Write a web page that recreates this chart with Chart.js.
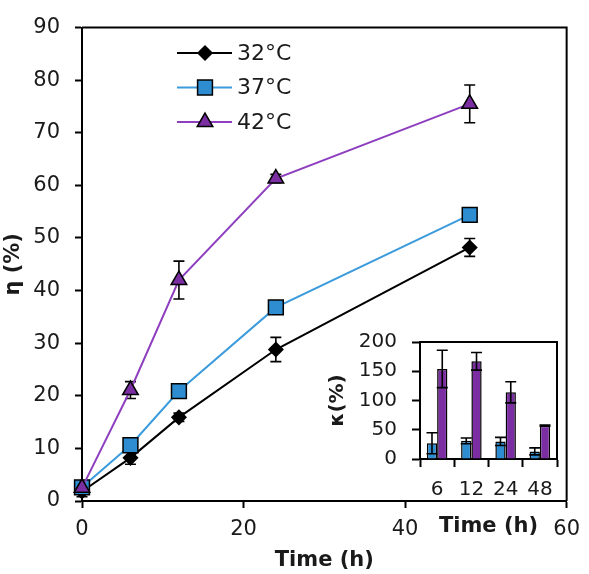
<!DOCTYPE html>
<html>
<head>
<meta charset="utf-8">
<script src="https://cdn.jsdelivr.net/npm/chart.js@4.4.1/dist/chart.umd.min.js"></script>
<style>
  body { margin: 0; background: #fff; }
  #wrap { position: relative; width: 589px; height: 574px; }
  #mainChart { position: absolute; left: 0; top: 0; }
  #insetChart { position: absolute; left: 325px; top: 315px; }
</style>
</head>
<body>
<div id="wrap">
  <canvas id="mainChart" width="589" height="574"></canvas>
  <canvas id="insetChart" width="250" height="225"></canvas>
</div>
<script>
// main chart data (eta %, time in h)
var times = [0, 6, 12, 24, 48];
var eta32 = [1.8, 8.2, 15.9, 28.8, 48.2];
var eta32Err = [1.0, 1.2, 0.8, 2.3, 1.7];
var eta37 = [2.6, 10.6, 20.9, 36.8, 54.4];
var eta37Err = [0.6, 0.8, 0.6, 0.8, 0.8];
var eta42 = [2.5, 21.1, 42.0, 61.3, 75.5];
var eta42Err = [0.6, 1.6, 3.6, 0.8, 3.6];
var seriesLabels = ["32°C", "37°C", "42°C"];

// inset data (kappa %)
var insetTimes = ["6", "12", "24", "48"];
var kappa37 = [27, 31, 30, 13];
var kappa37Err = [18, 5, 7, 6];
var kappa42 = [154, 167, 114, 57];
var kappa42Err = [32, 15, 18, 1];

var FONT = "'DejaVu Sans', sans-serif";
var TXT = '#1a1a1a';

function toXY(vals) {
    return times.map(function (t, i) { return { x: t, y: vals[i] }; });
}

// error bars, drawn behind markers (main) or on top (inset)
function errorBarPlugin(id, errs, onTop) {
    function draw(chart) {
        var ctx = chart.ctx;
        var yScale = chart.scales.y;
        ctx.save();
        ctx.strokeStyle = '#000';
        ctx.lineWidth = 1.6;
        chart.data.datasets.forEach(function (ds, di) {
            var meta = chart.getDatasetMeta(di);
            meta.data.forEach(function (el, i) {
                var v = ds.data[i].y !== undefined ? ds.data[i].y : ds.data[i];
                var e = errs[di][i];
                var yTop = yScale.getPixelForValue(v + e);
                var yBot = yScale.getPixelForValue(Math.max(0, v - e));
                var x = el.x;
                ctx.beginPath();
                ctx.moveTo(x, yTop); ctx.lineTo(x, yBot);
                ctx.moveTo(x - 5.5, yTop); ctx.lineTo(x + 5.5, yTop);
                ctx.moveTo(x - 5.5, yBot); ctx.lineTo(x + 5.5, yBot);
                ctx.stroke();
            });
        });
        ctx.restore();
    }
    var p = { id: id };
    if (onTop) p.afterDatasetsDraw = draw; else p.beforeDatasetsDraw = draw;
    return p;
}

// top and right frame lines
var boxPlugin = {
    id: 'box',
    afterDraw: function (chart) {
        var a = chart.chartArea, ctx = chart.ctx;
        ctx.save();
        ctx.strokeStyle = '#000';
        ctx.lineWidth = 2;
        ctx.beginPath();
        ctx.moveTo(a.left, a.top);
        ctx.lineTo(a.right, a.top);
        ctx.lineTo(a.right, a.bottom);
        ctx.stroke();
        ctx.restore();
    }
};

// legend with line + marker, like the original
var lineLegend = {
    id: 'lineLegend',
    afterDraw: function (chart) {
        var ctx = chart.ctx;
        var rows = [53, 87.5, 122];
        ctx.save();
        chart.data.datasets.forEach(function (ds, i) {
            var y = rows[i];
            ctx.strokeStyle = ds.borderColor;
            ctx.lineWidth = 2;
            ctx.beginPath();
            ctx.moveTo(177, y); ctx.lineTo(232, y);
            ctx.stroke();
            ctx.fillStyle = ds.pointBackgroundColor;
            ctx.strokeStyle = '#000';
            ctx.lineWidth = 1.5;
            Chart.helpers.drawPoint(ctx, {
                pointStyle: ds.pointStyle, radius: ds.pointRadius, rotation: 0, borderWidth: 1.5
            }, 205, y);
            ctx.fillStyle = TXT;
            ctx.font = '22px ' + FONT;
            ctx.textBaseline = 'middle';
            ctx.textAlign = 'left';
            ctx.fillText(seriesLabels[i], 237, y + 1);
        });
        ctx.restore();
    }
};

var ctxMain = document.getElementById("mainChart").getContext('2d');
var mainChart = new Chart(ctxMain, {
    type: 'line',
    data: {
        datasets: [{
            label: seriesLabels[0],
            data: toXY(eta32),
            borderColor: '#000000',
            borderWidth: 2,
            pointStyle: 'rectRot',
            pointRadius: 7,
            pointBackgroundColor: '#000000',
            pointBorderColor: '#000000',
            pointBorderWidth: 1.5,
            order: 2,
            clip: false
        }, {
            label: seriesLabels[1],
            data: toXY(eta37),
            borderColor: '#3b9bdc',
            borderWidth: 2,
            pointStyle: 'rect',
            pointRadius: 10.5,
            pointBackgroundColor: '#2d8dd0',
            pointBorderColor: '#000000',
            pointBorderWidth: 1.5,
            order: 1,
            clip: false
        }, {
            label: seriesLabels[2],
            data: toXY(eta42),
            borderColor: '#8e3fbf',
            borderWidth: 2,
            pointStyle: 'triangle',
            pointRadius: 9,
            pointBackgroundColor: '#7a2ea2',
            pointBorderColor: '#000000',
            pointBorderWidth: 1.5,
            order: 0,
            clip: false
        }]
    },
    options: {
        responsive: false,
        animation: false,
        layout: { autoPadding: false, padding: { top: 11, right: 14, left: 0, bottom: 0 } },
        plugins: { legend: { display: false }, tooltip: { enabled: false } },
        scales: {
            x: {
                type: 'linear', min: 0, max: 60,
                afterFit: function (s) { s.height = 73; },
                ticks: { stepSize: 20, color: TXT, padding: 9, maxRotation: 0, font: { family: FONT, size: 21 } },
                grid: { drawOnChartArea: false, tickLength: 7, tickColor: '#000', tickWidth: 2 },
                border: { color: '#000', width: 2 },
                title: { display: true, text: 'Time (h)', color: TXT, padding: { top: 0, bottom: 3 },
                         font: { family: FONT, size: 21, weight: 'bold', lineHeight: 1 } }
            },
            y: {
                min: 0, max: 90,
                afterFit: function (s) { s.width = 82; },
                ticks: { stepSize: 10, color: TXT, padding: 15, font: { family: FONT, size: 21 } },
                grid: { drawOnChartArea: false, tickLength: 7, tickColor: '#000', tickWidth: 2 },
                border: { color: '#000', width: 2 },
                title: { display: true, text: 'η (%)', color: TXT, padding: { top: 3, bottom: 0 },
                         font: { family: FONT, size: 21, weight: 'bold', lineHeight: 1 } }
            }
        }
    },
    plugins: [errorBarPlugin('mainErr', [eta32Err, eta37Err, eta42Err], false), boxPlugin, lineLegend]
});

//INSET BAR CHART
var ctxInset = document.getElementById("insetChart").getContext('2d');
var insetChart = new Chart(ctxInset, {
    type: 'bar',
    data: {
        labels: insetTimes,
        datasets: [{
            label: "37°C",
            data: kappa37,
            backgroundColor: '#2d8dd0',
            borderColor: '#000',
            borderWidth: 1.5,
            categoryPercentage: 0.6,
            barPercentage: 1.0
        }, {
            label: "42°C",
            data: kappa42,
            backgroundColor: '#7a2ea2',
            borderColor: '#000',
            borderWidth: 1.5,
            categoryPercentage: 0.6,
            barPercentage: 1.0
        }]
    },
    options: {
        responsive: false,
        animation: false,
        layout: { autoPadding: false, padding: { top: 18, right: 18, left: 0, bottom: 0 } },
        plugins: { legend: { display: false }, tooltip: { enabled: false } },
        scales: {
            x: {
                afterFit: function (s) { s.height = 81; },
                ticks: { color: TXT, padding: 11, maxRotation: 0, font: { family: FONT, size: 20 } },
                grid: { offset: true, drawOnChartArea: false, tickLength: 8, tickColor: '#000', tickWidth: 2 },
                border: { color: '#000', width: 2 },
                title: { display: true, text: 'Time (h)', color: TXT, padding: { top: 0, bottom: 3 },
                         font: { family: FONT, size: 21, weight: 'bold', lineHeight: 1 } }
            },
            y: {
                min: 0, max: 200,
                afterFit: function (s) { s.width = 95; },
                ticks: { stepSize: 50, color: TXT, padding: 15, font: { family: FONT, size: 20 } },
                grid: { drawOnChartArea: false, tickLength: 8, tickColor: '#000', tickWidth: 2 },
                border: { color: '#000', width: 2 },
                title: { display: true, text: 'κ(%)', color: TXT, padding: { top: 3, bottom: 0 },
                         font: { family: FONT, size: 20, weight: 'bold', lineHeight: 1 } }
            }
        }
    },
    plugins: [errorBarPlugin('insetErr', [kappa37Err, kappa42Err], true), boxPlugin]
});
</script>
</body>
</html>
